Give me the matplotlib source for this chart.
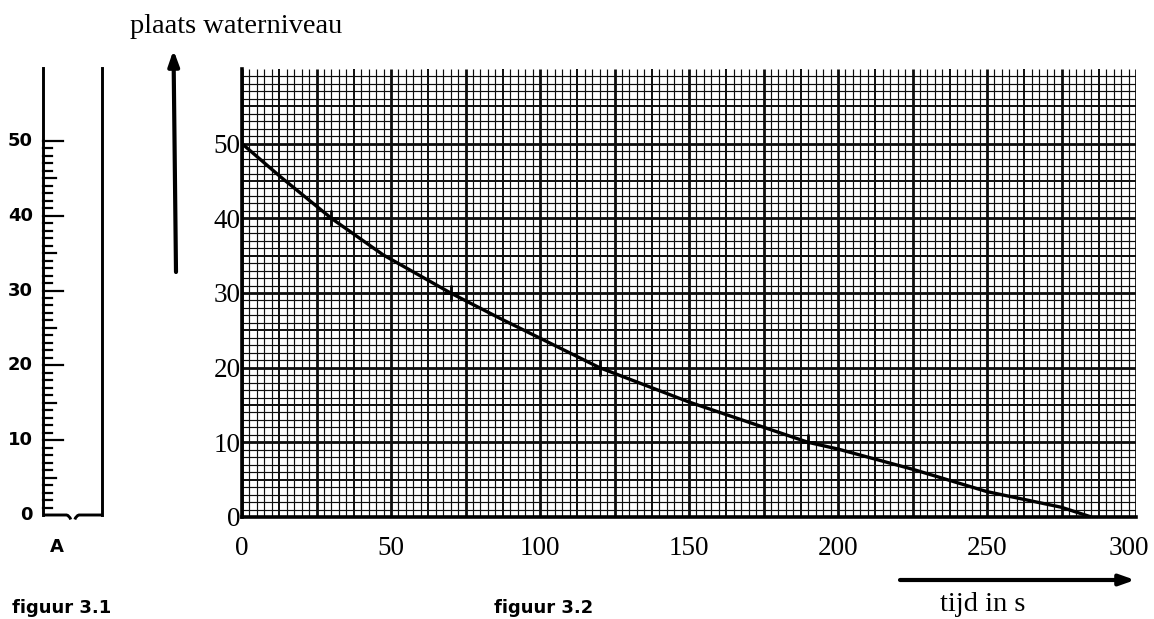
import matplotlib
matplotlib.use("Agg")
import matplotlib.pyplot as plt
import matplotlib.transforms as mtransforms
import numpy as np
from matplotlib.path import Path
from matplotlib.patches import PathPatch

tijd = [0, 12.8, 30, 47.4, 70, 86.6, 120, 150, 190, 200, 225, 250, 275, 285]
niveau = [50, 45.6, 40, 35.1, 30, 26.6, 20, 15.4, 10, 9.1, 6.4, 3.4, 1.3, 0]

# gemeten punten (kruisjes)
meet_tijd = [30, 70, 120, 190]
meet_niveau = [40, 30, 20, 10]

x_ticks = [0, 50, 100, 150, 200, 250, 300]
y_ticks = [0, 10, 20, 30, 40, 50]

# figuur 3.1: schaalverdeling buis
ruler_labels = [0, 10, 20, 30, 40, 50]
ruler_max = 60

W, H = 1154, 619
fig = plt.figure(figsize=(W / 100, H / 100), dpi=100)
fig.patch.set_facecolor("white")

serif = ["Liberation Serif", "DejaVu Serif"]
sans = ["DejaVu Sans"]
ink = "#0d0d0d"

# --- millimeter paper graph ---
ax = fig.add_axes([242 / W, (H - 517) / H, 894 / W, 448 / H])
ax.set_xlim(0, 300)
ax.set_ylim(0, 60)

for x in np.arange(0, 300.01, 2.5):
    if x % 25 == 0:
        lw = 2.0
    elif x % 12.5 == 0:
        lw = 1.4
    else:
        lw = 0.85
    ax.vlines(x, 0, 60, color=ink, lw=lw, zorder=1)
for y in np.arange(1, 60, 1):
    if y % 10 == 0:
        lw = 2.0
    elif y % 5 == 0:
        lw = 1.4
    else:
        lw = 0.85
    ax.hlines(y, 0, 300, color=ink, lw=lw, zorder=1)

ax.plot(tijd, niveau, color="black", lw=2.4, solid_capstyle="round", zorder=3)
ax.plot(meet_tijd, meet_niveau, ls="none", marker="+", ms=12, mew=2.0,
        color="black", zorder=4)

for side in ["top", "right"]:
    ax.spines[side].set_visible(False)
for side in ["left", "bottom"]:
    ax.spines[side].set_linewidth(2.6)
    ax.spines[side].set_color("black")

ax.set_xticks(x_ticks)
ax.set_yticks(y_ticks)
ax.set_xticklabels([str(v) for v in x_ticks], family=serif, fontsize=19.5)
ax.set_yticklabels([str(v) for v in y_ticks], family=serif, fontsize=19.5)
ax.tick_params(axis="x", length=0, pad=14)
ax.tick_params(axis="y", length=0, pad=1)
ax.set_facecolor("white")
# last label sits right at the paper edge
last = ax.get_xticklabels()[-1]
last.set_transform(last.get_transform() +
                   mtransforms.ScaledTranslation(-5 / 72, 0, fig.dpi_scale_trans))

# --- ruler (figuur 3.1) ---
rx = fig.add_axes([43 / W, (H - 515) / H, 59 / W, 449 / H])
rx.set_xlim(0, 1)
rx.set_ylim(0, ruler_max)
rx.axis("off")
rx.plot([0, 0], [0, ruler_max - 0.3], color="black", lw=2.1, clip_on=False)
rx.plot([1, 1], [0, ruler_max - 0.3], color="black", lw=2.1, clip_on=False)
for v in range(1, 51):
    if v % 10 == 0:
        length = 20 / 59
    elif v % 5 == 0:
        length = 13 / 59
    else:
        length = 9 / 59
    rx.plot([0, length], [v, v], color="black", lw=1.6, clip_on=False)
for v in ruler_labels:
    rx.text(-10 / 59, v, str(v), ha="right", va="center", family=sans,
            fontweight="bold", fontsize=13)
bottom = Path([(0, 0), (0.40, 0), (0.45, -0.1), (0.47, -0.6),
               (0.54, -0.6), (0.56, -0.1), (0.61, 0), (1, 0)],
              [Path.MOVETO, Path.LINETO, Path.CURVE3, Path.CURVE3,
               Path.MOVETO, Path.CURVE3, Path.CURVE3, Path.LINETO])
rx.add_patch(PathPatch(bottom, fill=False, lw=2.1, color="black", clip_on=False))
rx.text(14 / 59, -4.3, "A", ha="center", va="center", family=sans,
        fontweight="bold", fontsize=13)

# --- overlay for arrows and captions ---
ov = fig.add_axes([0, 0, 1, 1])
ov.set_xlim(0, W)
ov.set_ylim(H, 0)
ov.axis("off")
ov.patch.set_alpha(0)

ov.text(130, 33, "plaats waterniveau", family=serif, fontsize=20.5,
        ha="left", va="baseline")
ov.annotate("", xy=(173.5, 50), xytext=(176, 272),
            arrowprops=dict(arrowstyle="-|>,head_length=0.9,head_width=0.32",
                            lw=3, color="black", shrinkA=0, shrinkB=0))
ov.annotate("", xy=(1135, 580), xytext=(900, 580),
            arrowprops=dict(arrowstyle="-|>,head_length=0.9,head_width=0.32",
                            lw=3, color="black", shrinkA=0, shrinkB=0))
ov.text(940, 611, "tijd in s", family=serif, fontsize=20.5,
        ha="left", va="baseline")
ov.text(12, 617, "figuur 3.1", family=sans, fontweight="bold", fontsize=13,
        ha="left", va="bottom")
ov.text(494, 617, "figuur 3.2", family=sans, fontweight="bold", fontsize=13,
        ha="left", va="bottom")

fig.savefig("out.png", dpi=100, facecolor="white")
